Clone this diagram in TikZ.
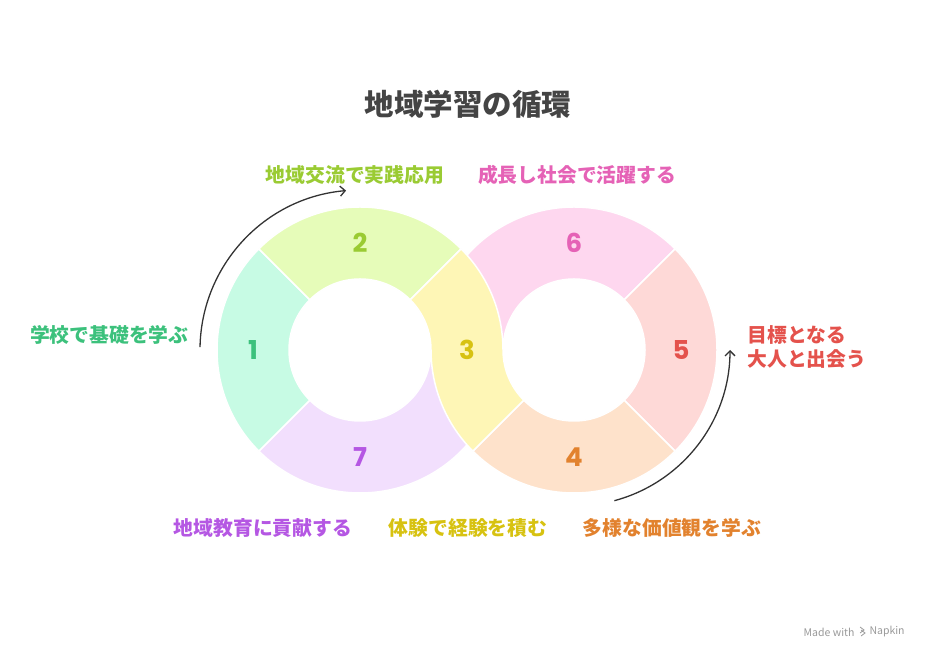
\documentclass[tikz,border=0pt]{standalone}
\usepackage{fontspec}
\setmainfont{Noto Sans CJK JP}
\newfontfamily\numfont{Poppins}
\usetikzlibrary{arrows.meta}

\definecolor{fillA}{HTML}{C7FBE4}
\definecolor{fillB}{HTML}{E6FCB9}
\definecolor{fillC}{HTML}{FEF6B6}
\definecolor{fillD}{HTML}{FEE2CB}
\definecolor{fillE}{HTML}{FED9D7}
\definecolor{fillF}{HTML}{FED7EF}
\definecolor{fillG}{HTML}{F2DFFD}
\definecolor{txtA}{HTML}{3CC17C}
\definecolor{txtB}{HTML}{9ACB33}
\definecolor{txtC}{HTML}{D7C211}
\definecolor{txtD}{HTML}{E2822E}
\definecolor{txtE}{HTML}{E4524C}
\definecolor{txtF}{HTML}{E562B6}
\definecolor{txtG}{HTML}{B557E3}
\definecolor{titlegray}{HTML}{444444}
\definecolor{arrowgray}{HTML}{333333}

\begin{document}
\begin{tikzpicture}[x=1pt,y=1pt,
ring/.style={draw=white, line width=1.5pt},
num/.style={font=\numfont\bfseries\fontsize{26}{26}\selectfont},
lbl/.style={font=\bfseries\fontsize{19.8}{24}\selectfont},
cyc/.style={draw=arrowgray, line width=1.3pt, -{Straight Barb[length=5pt,width=10pt]}},
]
\useasboundingbox (0,0) rectangle (936,660);
\coordinate (L) at (360,310);
\coordinate (R) at (574,310);

% the two rings, lower layer
\filldraw[ring, fill=fillG] (L) ++(225:143) arc[start angle=225, end angle=360, radius=143]
  -- ++(180:72) arc[start angle=360, end angle=225, radius=71] -- cycle;
\filldraw[ring, fill=fillF] (R) ++(45:143) arc[start angle=45, end angle=180, radius=143]
  -- ++(0:72) arc[start angle=180, end angle=45, radius=71] -- cycle;
\filldraw[ring, fill=fillA] (L) ++(135:143) arc[start angle=135, end angle=225, radius=143]
  -- ++(45:72) arc[start angle=225, end angle=135, radius=71] -- cycle;
\filldraw[ring, fill=fillB] (L) ++(45:143) arc[start angle=45, end angle=135, radius=143]
  -- ++(315:72) arc[start angle=135, end angle=45, radius=71] -- cycle;
\filldraw[ring, fill=fillE] (R) ++(-45:143) arc[start angle=-45, end angle=45, radius=143]
  -- ++(225:72) arc[start angle=45, end angle=-45, radius=71] -- cycle;
\filldraw[ring, fill=fillD] (R) ++(225:143) arc[start angle=225, end angle=315, radius=143]
  -- ++(135:72) arc[start angle=315, end angle=225, radius=71] -- cycle;
% crossing band
\filldraw[ring, fill=fillC] (L) ++(45:143) arc[start angle=45, end angle=0, radius=143]
  arc[start angle=180, end angle=225, radius=71] -- ++(225:72)
  arc[start angle=225, end angle=180, radius=143]
  arc[start angle=0, end angle=45, radius=71] -- cycle;

% numbers
\node[num, text=txtA] (n1) at ([shift={(180:107)}]L) {1};
\node[num, text=txtB] (n2) at ([shift={(90:107)}]L) {2};
\node[num, text=txtC] (n3) at (467,310) {3};
\node[num, text=txtD] (n4) at ([shift={(270:107)}]R) {4};
\node[num, text=txtE] (n5) at ([shift={(0:107)}]R) {5};
\node[num, text=txtF] (n6) at ([shift={(90:107)}]R) {6};
\node[num, text=txtG] (n7) at ([shift={(270:107)}]L) {7};

% title and labels
\node[font=\bfseries\fontsize{29.5}{34}\selectfont, text=titlegray] (title) at (468,556) {地域学習の循環};
\node[lbl, text=txtB] (l2) at (355,485) {地域交流で実践応用};
\node[lbl, text=txtF] (l6) at (577,485) {成長し社会で活躍する};
\node[lbl, text=txtA, anchor=east] (l1) at (192,325) {学校で基礎を学ぶ};
\node[lbl, text=txtE, anchor=west, align=left] (l5) at (744,313) {目標となる\\大人と出会う};
\node[lbl, text=txtG] (l7) at (263,132) {地域教育に貢献する};
\node[lbl, text=txtC] (l3) at (468,132) {体験で経験を積む};
\node[lbl, text=txtD] (l4) at (672,132) {多様な価値観を学ぶ};

% direction arrows
\coordinate (a1) at ([shift={(179:160)}]L);
\coordinate (a2) at ([shift={(-75:156)}]R);
\draw[cyc] (a1) arc[start angle=179, end angle=95, radius=160];
\draw[cyc] (a2) arc[start angle=-75, end angle=0, radius=156];

% credit
\node[font=\fontsize{10.5}{12}\selectfont, text=gray!80, anchor=east] (made) at (858,28) {Made with};
\node[font=\fontsize{10.5}{12}\selectfont, text=gray!80, anchor=west] (napkin) at (866,28) {Napkin};
\draw[gray!80, line width=0.8pt] (860,33) -- (864,30) -- (860,27) (861,30) -- (865,27) -- (861,24);
\end{tikzpicture}
\end{document}
